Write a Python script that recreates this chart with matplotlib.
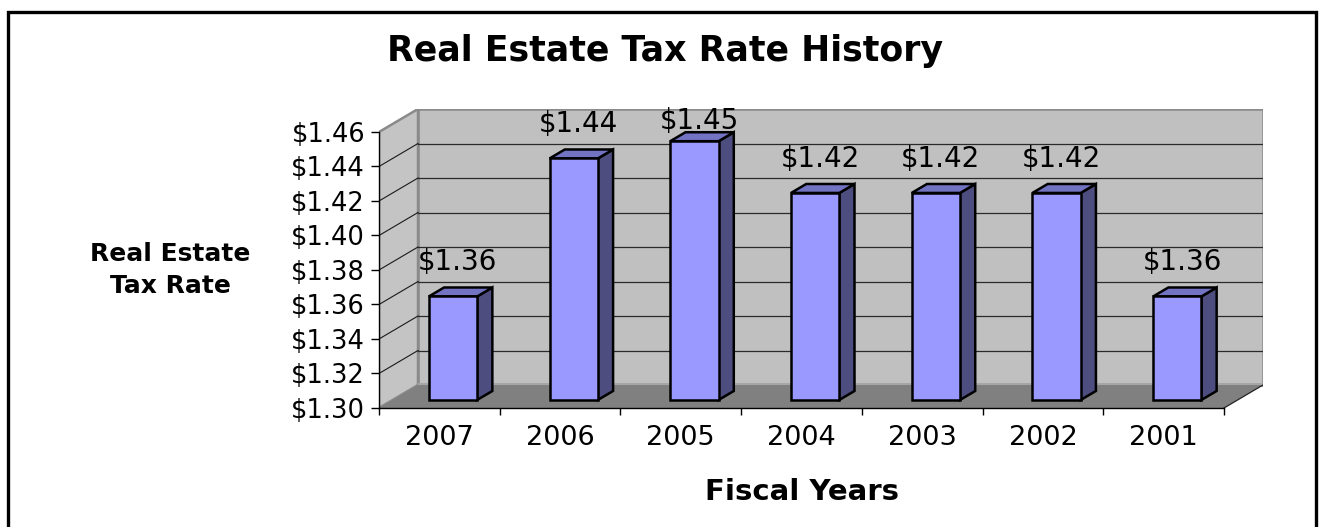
import matplotlib
matplotlib.use("Agg")
import matplotlib.pyplot as plt
from matplotlib.patches import Polygon, Rectangle

# Data
years = ["2007", "2006", "2005", "2004", "2003", "2002", "2001"]
rates = [1.36, 1.44, 1.45, 1.42, 1.42, 1.42, 1.36]
y_ticks = [1.30, 1.32, 1.34, 1.36, 1.38, 1.40, 1.42, 1.44, 1.46]
y_min, y_max = 1.30, 1.46

# Oblique projection of the depth axis (in data units)
DX = 0.323      # horizontal shift of the back wall
DY = 0.01333    # vertical shift of the back wall
Z0, Z1 = 0.35, 0.74   # bar depth span as fraction of full depth
HALF_W = 0.20
LABEL_GAP = 0.0151    # value label baseline above bar front top
LABEL_CAP = 1.4617    # labels never rise above this level

W, H = 1323, 527
fig = plt.figure(figsize=(W / 100, H / 100), dpi=100)
fig.patch.set_facecolor("white")

ax = fig.add_axes([379 / W, (H - 408) / H, 884 / W, 299 / H])
n = len(years)
ax.set_xlim(0, n + DX)
ax.set_ylim(y_min, y_max + DY)
ax.set_facecolor("none")

wall_c = "#c0c0c0"
side_wall_c = "#c4c4c4"
floor_c = "#808080"
edge_grey = "#8a8a8a"

# Back wall
ax.add_patch(Polygon([(DX, y_min + DY), (n + DX, y_min + DY),
                      (n + DX, y_max + DY), (DX, y_max + DY)],
                     closed=True, facecolor=wall_c, edgecolor=edge_grey,
                     linewidth=1.8, zorder=1))
# Left wall
ax.add_patch(Polygon([(0, y_min), (DX, y_min + DY), (DX, y_max + DY), (0, y_max)],
                     closed=True, facecolor=side_wall_c, edgecolor=edge_grey,
                     linewidth=1.8, zorder=1))
# Floor
ax.add_patch(Polygon([(0, y_min), (n, y_min), (n + DX, y_min + DY), (DX, y_min + DY)],
                     closed=True, facecolor=floor_c, edgecolor="none", zorder=1.5))
# Wall base strip
ax.fill_between([DX, n + DX], y_min + DY, y_min + DY + 0.0012,
                color="#a6a6a6", zorder=1.6, linewidth=0)
ax.plot([n, n + DX], [y_min, y_min + DY], color="#222222", lw=0.9, zorder=1.7)

# Gridlines on back and left walls
for v in y_ticks[1:-1]:
    ax.plot([DX, n + DX], [v + DY, v + DY], color="#2a2a2a", lw=0.9, zorder=1.2)
    ax.plot([0, DX], [v, v + DY], color="#1a1a1a", lw=0.8, zorder=1.2)

# Bars: front faces via bar(), side and top faces as projected polygons
front_c = "#9999ff"
side_c = "#4d4d80"
top_c = "#7373c4"
base = y_min + Z0 * DY
xs = [i + 0.5 + Z0 * DX for i in range(n)]
ax.bar(xs, [r - y_min for r in rates], width=2 * HALF_W, bottom=base,
       color=front_c, edgecolor="black", linewidth=1.8, zorder=3)
ddx = (Z1 - Z0) * DX
ddy = (Z1 - Z0) * DY
for x, r in zip(xs, rates):
    xl, xr = x - HALF_W, x + HALF_W
    yt = r + Z0 * DY
    ax.add_patch(Polygon([(xr, base), (xr + ddx, base + ddy), (xr + ddx, yt + ddy), (xr, yt)],
                         closed=True, facecolor=side_c, edgecolor="black",
                         linewidth=1.8, joinstyle="miter", zorder=2.9))
    ax.add_patch(Polygon([(xl, yt), (xr, yt), (xr + ddx, yt + ddy), (xl + ddx, yt + ddy)],
                         closed=True, facecolor=top_c, edgecolor="black",
                         linewidth=1.8, joinstyle="miter", zorder=2.9))
    ly = min(yt + LABEL_GAP, LABEL_CAP)
    ax.text(x + 0.04, ly, f"${r:.2f}", ha="center", va="baseline",
            fontsize=20, color="black", zorder=5)

# Axes lines and ticks
for s in ["top", "right"]:
    ax.spines[s].set_visible(False)
ax.spines["left"].set_bounds(y_min, y_max)
ax.spines["bottom"].set_bounds(0, n)
ax.spines["left"].set_linewidth(1.0)
ax.spines["bottom"].set_linewidth(1.0)
ax.spines["left"].set_zorder(4)
ax.spines["bottom"].set_zorder(4)

ax.set_yticks(y_ticks)
ax.set_yticklabels([f"${v:.2f}" for v in y_ticks], fontsize=18.5)
ax.tick_params(axis="y", direction="out", length=6, width=1.0, pad=4)

ax.set_xticks([i + 0.5 for i in range(n)])
ax.set_xticklabels(years, fontsize=19.5)
ax.set_xticks(range(n + 1), minor=True)
ax.tick_params(axis="x", which="major", length=0, pad=12)
ax.tick_params(axis="x", which="minor", direction="out", length=5, width=1.0)

# Titles
fig.text(665 / W, 1 - 51 / H, "Real Estate Tax Rate History", ha="center", va="center",
         fontsize=25, fontweight="bold")
fig.text(170 / W, 1 - 270 / H, "Real Estate\nTax Rate", ha="center", va="center",
         multialignment="center", fontsize=18, fontweight="bold", linespacing=1.4)
fig.text(802 / W, 1 - 492 / H, "Fiscal Years", ha="center", va="center",
         fontsize=21, fontweight="bold")

# Chart frame
fig.patches.append(Rectangle((8 / W, -0.05), (1316 - 8) / W, 1.05 - 12 / H,
                             transform=fig.transFigure, fill=False,
                             edgecolor="black", linewidth=2.4, zorder=10))

fig.savefig("out.png", dpi=100)
